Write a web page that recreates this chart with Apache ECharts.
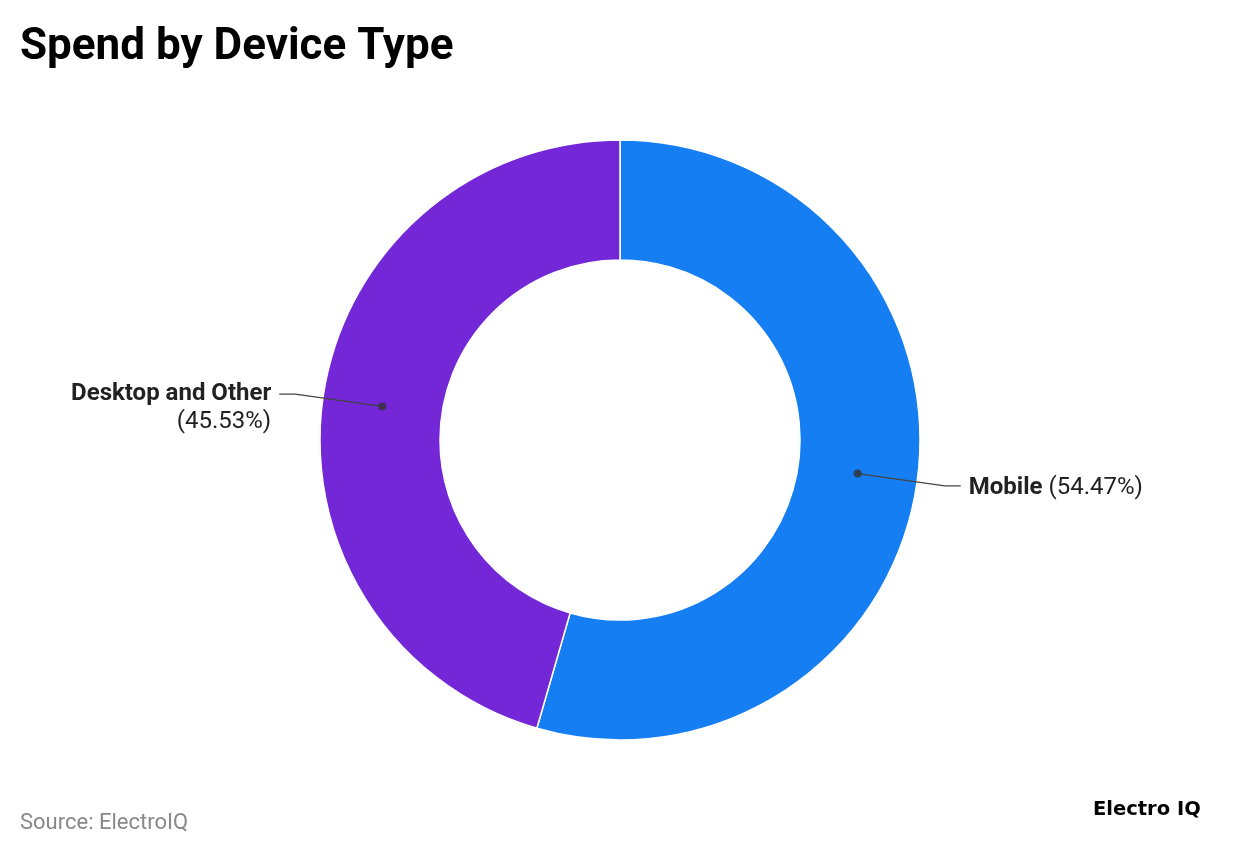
<!DOCTYPE html>
<html>
<head>
<meta charset="utf-8">
<script src="https://cdn.jsdelivr.net/npm/echarts@6/dist/echarts.min.js"></script>
<style>
html,body{margin:0;padding:0;background:#fff;}
#main{width:1240px;height:856px;}
</style>
</head>
<body>
<div id="main"></div>
<script>
const categories = ['Mobile', 'Desktop and Other'];
const values = [54.47, 45.53];
const colors = ['#157EF3', '#7327D6'];
const titleText = 'Spend by Device Type';
const sourceText = 'Source: ElectroIQ';
const logoText = 'Electro IQ';

const total = values.reduce((a, b) => a + b, 0);
let cum = 0;
const mids = values.map(v => { const m = cum + v / 2; cum += v; return m / total * 100; });

const chart = echarts.init(document.getElementById('main'));
const center = [620, 440];
chart.setOption({
  backgroundColor: '#fff',
  animation: false,
  title: [{
    text: titleText, left: 20, top: 26, padding: 0,
    textStyle: { fontFamily: 'Roboto', fontWeight: 'bold', fontSize: 44, color: '#000' }
  }, {
    text: sourceText, left: 20, top: 812, padding: 0,
    textStyle: { fontFamily: 'Roboto', fontWeight: 'normal', fontSize: 22, color: '#888' }
  }, {
    text: logoText, left: 1093, top: 800, padding: 0,
    textStyle: { fontFamily: 'DejaVu Sans', fontWeight: 'bold', fontSize: 19.5, color: '#000' }
  }],
  polar: { center: center, radius: 300 },
  angleAxis: { type: 'value', min: 0, max: 100, startAngle: 90, clockwise: true, show: false },
  radiusAxis: { type: 'value', min: 0, max: 300, show: false },
  series: [{
    type: 'pie',
    z: 1,
    center: center,
    radius: [180, 300],
    startAngle: 90,
    clockwise: true,
    label: { show: false },
    labelLine: { show: false },
    itemStyle: { borderColor: '#fff', borderWidth: 1.5 },
    data: categories.map((c, i) => ({ name: c, value: values[i], itemStyle: { color: colors[i] } })),
    silent: true
  }, {
    type: 'pie',
    z: 5,
    center: center,
    radius: [239, 240],
    startAngle: 90,
    clockwise: true,
    itemStyle: { color: 'rgba(0,0,0,0)' },
    avoidLabelOverlap: false,
    labelLine: { show: true, length: 88, length2: 16, lineStyle: { color: '#444', width: 1.3 } },
    label: {
      show: true, position: 'outside', distanceToLabelLine: 8,
      fontFamily: 'Roboto', fontSize: 24, color: '#222',
      rich: {
        b: { fontFamily: 'Roboto', fontWeight: 'bold', fontSize: 24, color: '#222', lineHeight: 28 },
        n: { fontFamily: 'Roboto', fontSize: 24, color: '#222', lineHeight: 28 }
      }
    },
    data: categories.map((c, i) => ({
      name: c, value: values[i],
      label: i === 0
        ? { formatter: '{b|' + c + '} {n|(' + values[i].toFixed(2) + '%)}', padding: [4, 0, 0, 0] }
        : { formatter: '{b|' + c + '}\n{n|(' + values[i].toFixed(2) + '%)}', padding: [28, 0, 0, 0], align: 'right' }
    })),
    silent: true
  }, {
    type: 'scatter',
    z: 6,
    coordinateSystem: 'polar',
    symbol: 'circle',
    symbolSize: 8,
    itemStyle: { color: '#333' },
    data: mids.map(m => [240, m]),
    silent: true
  }]
});
</script>
</body>
</html>
